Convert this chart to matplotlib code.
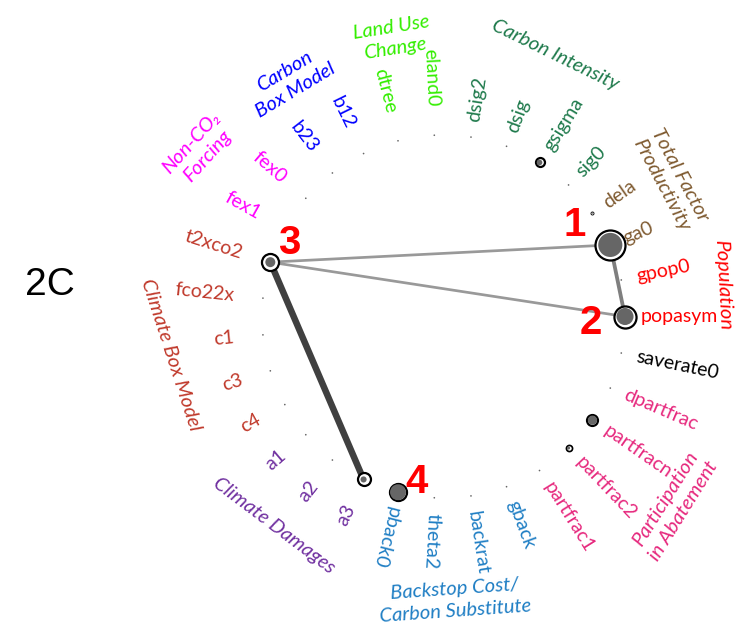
import matplotlib.pyplot as plt
import numpy as np

# parameters in counter-clockwise order, starting at 3 o'clock
params = ["popasym", "gpop0", "ga0", "dela", "sig0", "gsigma", "dsig", "dsig2",
          "eland0", "dtree", "b12", "b23", "fex0", "fex1", "t2xco2", "fco22x",
          "c1", "c3", "c4", "a1", "a2", "a3", "pback0", "theta2", "backrat",
          "gback", "partfrac1", "partfrac2", "partfracn", "dpartfrac", "saverate0"]

# total-order and first-order indices
st = [0.26, 0.0, 0.48, 0.005, 0.0, 0.043, 0.0, 0.0,
      0.0, 0.0, 0.0, 0.0, 0.0, 0.0, 0.155, 0.0,
      0.0, 0.0, 0.0, 0.0, 0.0, 0.09, 0.155, 0.0, 0.0,
      0.0, 0.0, 0.02, 0.064, 0.0, 0.0]
s1 = [0.155, 0.0015, 0.31, 0.0015, 0.0015, 0.017, 0.0015, 0.0015,
      0.0015, 0.0015, 0.0015, 0.0015, 0.0015, 0.0015, 0.053, 0.0015,
      0.0015, 0.0015, 0.0015, 0.0015, 0.0015, 0.02, 0.135, 0.0015, 0.0015,
      0.0015, 0.0015, 0.005, 0.045, 0.0015, 0.0015]

# second-order interactions
s2_pairs = [("t2xco2", "a3"), ("ga0", "popasym"), ("ga0", "t2xco2"), ("popasym", "t2xco2")]
s2 = [0.12, 0.07, 0.05, 0.05]

group_names = ["Population", "Total Factor\nProductivity", "Carbon Intensity",
               "Land Use\nChange", "Carbon\nBox Model", "Non-CO\u2082\nForcing",
               "Climate Box Model", "Climate Damages",
               "Backstop Cost/\nCarbon Substitute", "Participation\nin Abatement", ""]
group_colors = ["#ff0000", "#7f5a30", "#1f7a4c", "#33ee00", "#0000ff", "#ff00ff",
                "#c0392b", "#7030a0", "#1f7ec4", "#e6287d", "#000000"]
param_group = [0, 0, 1, 1, 2, 2, 2, 2, 3, 3, 4, 4, 5, 5, 6, 6, 6, 6, 6, 7, 7, 7,
               8, 8, 8, 8, 9, 9, 9, 9, 10]

# group title placement: polar angle (deg), radius, text rotation
group_angle = [6.4, 31, 66.9, 100.3, 123, 145.6, 188, 231, -87.7, -39.2, 0]
group_radius = [1.55, 1.46, 1.566, 1.56, 1.55, 1.63, 1.52, 1.48, 1.565, 1.64, 0]
group_rot = [-87, -62, -26, 9, 31, 48, -72, -37, 4, 58, 0]

callouts = {"ga0": ("1", -36, 20), "popasym": ("2", -34, -6),
            "t2xco2": ("3", 19, 19), "pback0": ("4", 19, 10)}

R_PX = 181.5          # ring radius in pixels
PT = 0.72             # points per pixel at 100 dpi
AREA_PER_UNIT = 469.0  # squared pixel radius per unit of index
FONT = ["Lato", "DejaVu Sans"]


def marker_area(v):
    r = np.sqrt(AREA_PER_UNIT * v)
    return (2 * r * PT) ** 2


n = len(params)
theta = np.radians(np.arange(n) * 360.0 / n)
xs, ys = np.cos(theta), np.sin(theta)
pos = {p: (x, y) for p, x, y in zip(params, xs, ys)}

fig = plt.figure(figsize=(7.4, 6.37), dpi=100)
ax = fig.add_axes([0, 0, 1, 1])
ax.set_xlim(-443.5 / R_PX, 296.5 / R_PX)
ax.set_ylim(-320.5 / R_PX, 316.5 / R_PX)
ax.axis("off")

# interaction lines
for (a, b), v in zip(s2_pairs, s2):
    grey = 0.85 - 5 * v
    ax.plot([pos[a][0], pos[b][0]], [pos[a][1], pos[b][1]],
            color=str(grey), lw=6.5 * v / 0.12 * PT, solid_capstyle="round", zorder=1)

# total-order rings then first-order discs
for x, y, v in zip(xs, ys, st):
    if v <= 0:
        continue
    r = np.sqrt(AREA_PER_UNIT * v)
    ax.scatter(x, y, s=marker_area(v), facecolor="white", edgecolor="black",
               linewidth=1.6 * min(1.0, r / 4), zorder=2)
ax.scatter(xs, ys, s=[marker_area(v) for v in s1], color="#666666",
           linewidth=0, zorder=3)

# parameter labels, rotated along the radius
for p, t, g in zip(params, theta, param_group):
    deg = np.degrees(t)
    flip = 90 < deg < 250
    rad = 1.16 if flip else 1.085
    ax.text(rad * np.cos(t), rad * np.sin(t), p, color=group_colors[g],
            rotation=deg - 180 if flip else deg, rotation_mode="anchor",
            ha="right" if flip else "left", va="center", fontsize=14,
            family=FONT)

# group titles
for name, c, a, r, rot in zip(group_names, group_colors, group_angle, group_radius, group_rot):
    if not name:
        continue
    t = np.radians(a)
    ax.text(r * np.cos(t), r * np.sin(t), name, color=c, rotation=rot,
            rotation_mode="anchor", ha="center", va="center", fontsize=14.5,
            style="italic", family=FONT, linespacing=1.35)

# numbered callouts
for p, (lab, dx, dy) in callouts.items():
    ax.annotate(lab, pos[p], xytext=(dx * PT, dy * PT), textcoords="offset points",
                ha="center", va="center", color="red", fontsize=29,
                fontweight="bold", family="Liberation Sans")

fig.text(50 / 740, 1 - 285 / 637, "2C", ha="center", va="center", fontsize=28,
         family="Liberation Sans")

fig.savefig("out.png", dpi=100)
